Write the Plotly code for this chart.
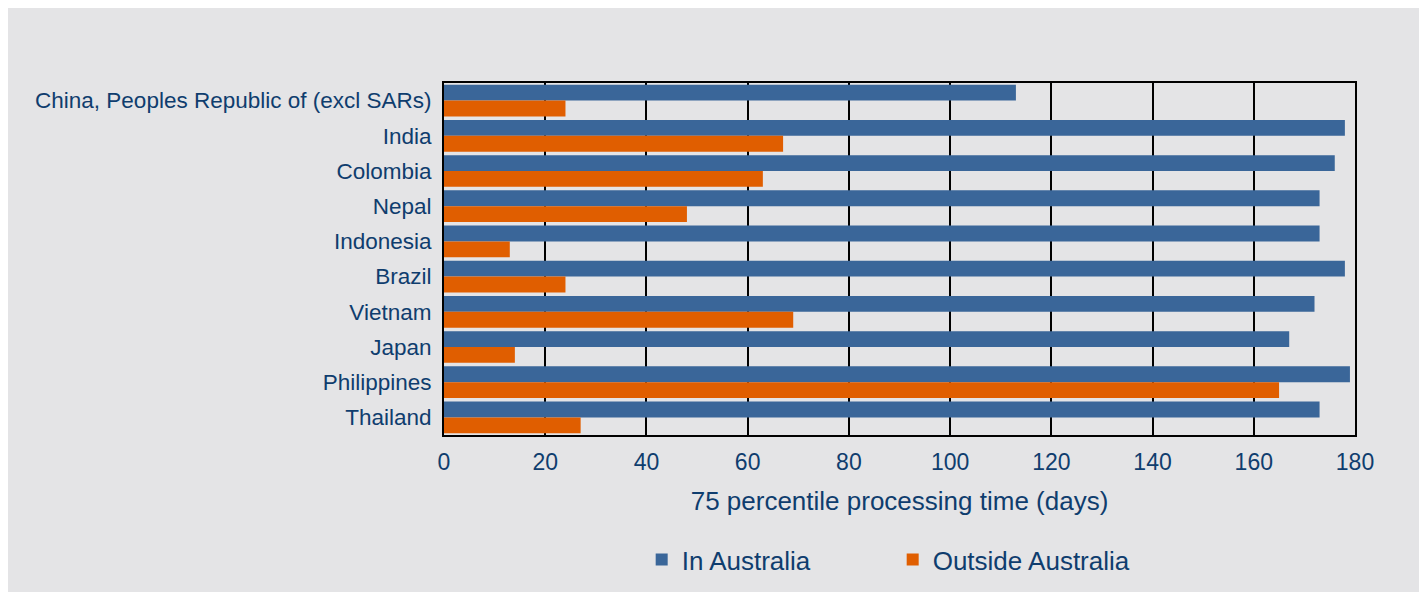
import plotly.graph_objects as go

countries = [
    "China, Peoples Republic of (excl SARs)",
    "India",
    "Colombia",
    "Nepal",
    "Indonesia",
    "Brazil",
    "Vietnam",
    "Japan",
    "Philippines",
    "Thailand",
]
in_australia = [113, 178, 176, 173, 173, 178, 172, 167, 179, 173]
outside_australia = [24, 67, 63, 48, 13, 24, 69, 14, 165, 27]
x_ticks = [0, 20, 40, 60, 80, 100, 120, 140, 160, 180]

BLUE = "#3a6699"
ORANGE = "#e05e00"
TEXT = "#0f3d6e"
BG = "#e4e4e6"

fig = go.Figure()

fig.add_trace(go.Bar(
    y=countries,
    x=in_australia,
    orientation="h",
    name="In Australia",
    marker={"color": BLUE, "line": {"width": 0}},
))

fig.add_trace(go.Bar(
    y=countries,
    x=outside_australia,
    orientation="h",
    name="Outside Australia",
    marker={"color": ORANGE, "line": {"width": 0}},
))

fig.update_layout(
    width=1427,
    height=592,
    margin={"l": 436, "r": 80, "t": 75, "b": 165},
    paper_bgcolor=BG,
    plot_bgcolor=BG,
    barmode="group",
    bargap=0.1,
    bargroupgap=0,
    font={"family": "Liberation Sans, Arial, sans-serif", "color": TEXT, "size": 22},
    showlegend=True,
    legend={
        "orientation": "h",
        "x": 0.217, "xanchor": "left",
        "y": -0.354, "yanchor": "middle",
        "font": {"size": 26, "color": TEXT},
        "bgcolor": "rgba(0,0,0,0)",
        "itemwidth": 30,
        "entrywidth": 206,
    },
)

fig.update_xaxes(
    range=[0, 180],
    tickvals=x_ticks,
    showgrid=True,
    gridcolor="black",
    gridwidth=1.5,
    showline=True,
    linecolor="black",
    linewidth=2,
    mirror=True,
    zeroline=False,
    ticks="",
    ticklabelstandoff=5,
    tickfont={"size": 23},
    title={"text": "75 percentile processing time (days)", "font": {"size": 26}, "standoff": 18},
)

fig.update_yaxes(
    autorange="reversed",
    showline=True,
    linecolor="black",
    linewidth=2,
    mirror=True,
    showgrid=False,
    ticks="",
    ticklabelstandoff=6,
    tickfont={"size": 22.5},
)

fig.write_html("out.html")
